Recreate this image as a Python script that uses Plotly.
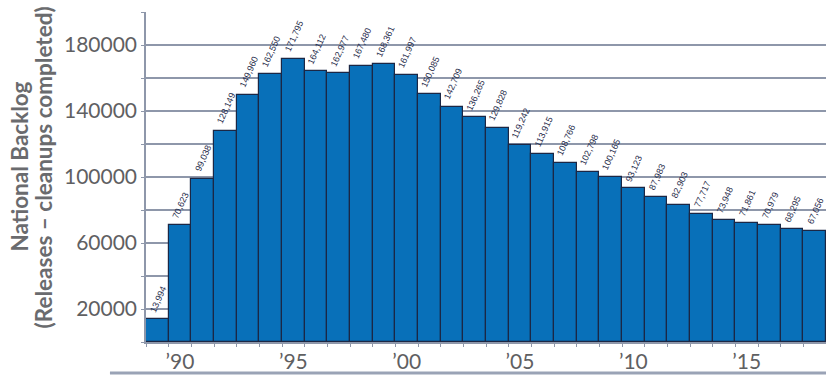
import plotly.graph_objects as go

# National backlog of releases not yet cleaned up, by fiscal year
years = list(range(1989, 2019))
backlog = [13994, 70623, 99038, 128149, 149960, 162550, 171795, 164112,
           162977, 167480, 168361, 161997, 150085, 142709, 136265, 129828,
           119242, 113915, 108766, 102798, 100165, 93123, 87983, 82903,
           77717, 73948, 71861, 70979, 68295, 67056]
value_labels = [f"{v:,}" for v in backlog]

x_tick_years = [1990, 1995, 2000, 2005, 2010, 2015]
x_tick_text = ["\u201990", "\u201995", "\u201900", "\u201905", "\u201910", "\u201915"]

y_grid_vals = list(range(0, 200001, 20000))
y_tick_text = [str(v) if v in (20000, 60000, 100000, 140000, 180000) else ""
               for v in y_grid_vals]

title_lines = ["National Backlog", "(Releases \u2013 cleanups completed)"]

GRAY = "#5f6062"
GRID = "#8e97aa"

fig = go.Figure(go.Bar(
    x=years,
    y=backlog,
    width=1.0,
    marker=dict(color="#0870b9", line=dict(color="#1b2745", width=1.2)),
    hoverinfo="x+y",
))

# Slanted value labels sitting just above each bar
annotations = [dict(
    text=lab, x=yr, y=val, xref="x", yref="y",
    xanchor="center", yanchor="bottom", yshift=4, xshift=1,
    textangle=-66, showarrow=False, borderpad=0,
    font=dict(family="Liberation Sans", size=9, color="#1f2b4a"),
) for yr, val, lab in zip(years, backlog, value_labels)]

# Two-line rotated axis title, one annotation per line
title_x = [-0.186, -0.151]
annotations += [dict(
    text=f"<b>{line}</b>",
    xref="paper", yref="paper", x=x, y=0.53,
    xanchor="center", yanchor="middle", textangle=-90, showarrow=False,
    font=dict(family="Lato", size=22.5, color="#6a6b6e"),
) for line, x in zip(title_lines, title_x)]

fig.update_layout(
    width=826, height=377,
    margin=dict(l=146, r=0, t=12, b=35),
    paper_bgcolor="white", plot_bgcolor="white",
    showlegend=False,
    bargap=0,
    xaxis=dict(
        range=[1988.5, 2018.5],
        tickmode="array", tickvals=x_tick_years, ticktext=x_tick_text,
        ticks="", showgrid=False,
        showline=True, linecolor=GRID, linewidth=1.5,
        tickfont=dict(family="Lato", size=21, color=GRAY),
        minor=dict(tickmode="array",
                   tickvals=[y + 0.5 for y in range(1988, 2019)],
                   ticks="outside", ticklen=3, tickcolor=GRID, showgrid=False),
    ),
    yaxis=dict(
        range=[0, 200000],
        tickmode="array", tickvals=y_grid_vals, ticktext=y_tick_text,
        ticks="outside", ticklen=3, tickcolor=GRID,
        showgrid=True, gridcolor=GRID, gridwidth=1.5,
        showline=True, linecolor=GRID, linewidth=1.5,
        zeroline=False,
        tickfont=dict(family="Lato", size=21, color=GRAY),
    ),
    annotations=annotations,
    shapes=[dict(
        type="line", xref="paper", yref="paper",
        x0=-0.053, x1=1.0, y0=-0.094, y1=-0.094,
        line=dict(color="#9aa3b6", width=3),
    )],
)

fig.write_html("out.html")
